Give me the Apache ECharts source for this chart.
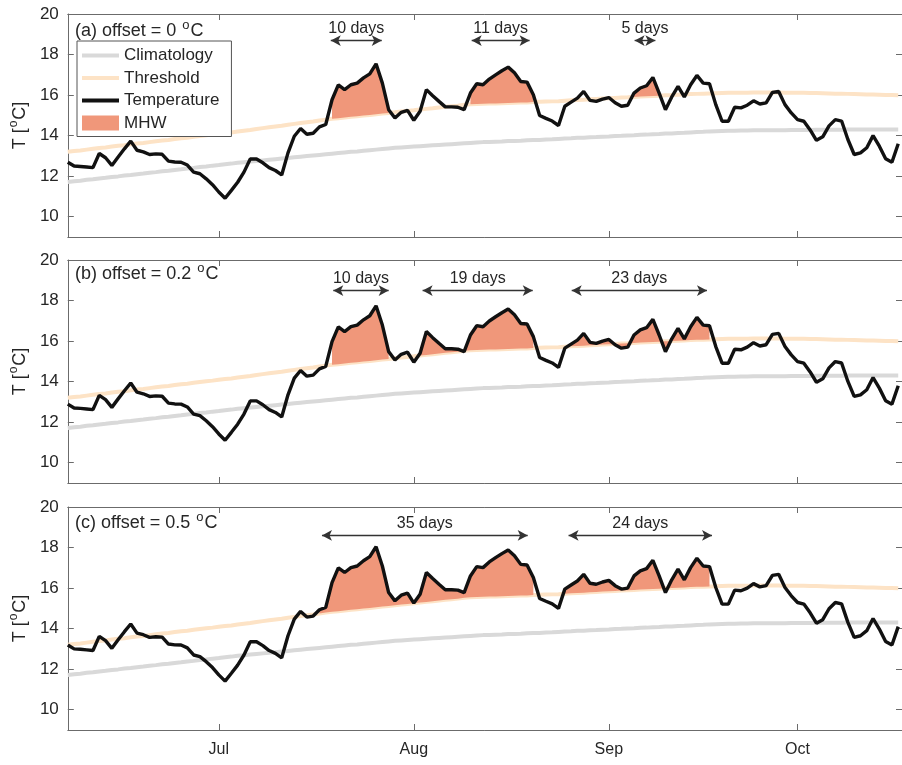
<!DOCTYPE html>
<html><head><meta charset="utf-8">
<script src="https://cdn.jsdelivr.net/npm/echarts@6/dist/echarts.min.js"></script>
<style>html,body{margin:0;padding:0;background:#fff}#c{width:902px;height:765px}</style>
</head><body><div id="c"></div>
<script>
// day of year of the first daily sample (7 Jun)
const startDay = 158;
const temperature = [
12.69,12.50,12.48,12.45,12.42,13.12,12.91,12.53,12.95,13.35,
13.73,13.28,13.20,13.07,13.10,13.08,12.74,12.70,12.69,12.55,
12.20,12.12,11.87,11.58,11.22,10.91,11.30,11.70,12.20,12.85,
12.85,12.66,12.42,12.28,12.06,13.15,13.97,14.35,14.07,14.12,
14.43,14.55,15.77,16.50,16.27,16.51,16.59,16.85,17.05,17.54,
16.59,15.28,14.87,15.15,15.25,14.76,15.20,16.27,15.97,15.69,
15.42,15.42,15.40,15.28,16.10,16.56,16.51,16.79,17.00,17.20,
17.38,17.10,16.67,16.64,16.02,14.99,14.85,14.72,14.50,15.45,
15.65,15.85,16.18,15.74,15.69,15.80,15.88,15.62,15.45,15.50,
16.10,16.35,16.46,16.87,16.10,15.28,15.91,16.43,15.91,16.51,
16.97,16.59,16.56,15.53,14.71,14.71,15.40,15.37,15.50,15.72,
15.56,15.62,16.13,16.18,15.53,15.12,14.79,14.71,14.28,13.77,
13.94,14.48,14.79,14.72,13.81,13.07,13.15,13.40,14.00,13.48,
12.86,12.69,13.60];
const threshold = [
13.20,13.24,13.27,13.31,13.35,13.39,13.42,13.46,13.50,13.53,
13.57,13.61,13.64,13.68,13.72,13.76,13.79,13.83,13.87,13.90,
13.94,13.98,14.02,14.05,14.09,14.13,14.16,14.20,14.24,14.28,
14.33,14.37,14.41,14.45,14.49,14.54,14.58,14.62,14.66,14.70,
14.75,14.79,14.83,14.86,14.89,14.93,14.96,14.99,15.02,15.06,
15.09,15.12,15.15,15.19,15.22,15.25,15.29,15.32,15.35,15.39,
15.42,15.45,15.48,15.52,15.55,15.56,15.57,15.58,15.59,15.60,
15.61,15.62,15.63,15.64,15.66,15.67,15.68,15.69,15.70,15.72,
15.74,15.76,15.77,15.79,15.81,15.83,15.84,15.86,15.88,15.89,
15.91,15.93,15.94,15.96,15.97,15.99,16.00,16.02,16.03,16.05,
16.06,16.07,16.08,16.09,16.10,16.11,16.11,16.12,16.12,16.13,
16.13,16.13,16.13,16.13,16.12,16.12,16.11,16.11,16.10,16.10,
16.09,16.08,16.07,16.07,16.06,16.05,16.04,16.03,16.03,16.02,
16.01,16.00,15.99];
const climatology = [
11.71,11.75,11.78,11.82,11.85,11.89,11.92,11.96,11.99,12.03,
12.06,12.10,12.13,12.17,12.20,12.24,12.27,12.31,12.34,12.38,
12.41,12.45,12.48,12.52,12.55,12.59,12.62,12.66,12.69,12.72,
12.75,12.78,12.81,12.84,12.87,12.90,12.93,12.96,12.99,13.02,
13.05,13.08,13.11,13.14,13.17,13.20,13.22,13.25,13.28,13.31,
13.34,13.37,13.40,13.42,13.44,13.46,13.48,13.50,13.52,13.54,
13.56,13.58,13.60,13.62,13.64,13.66,13.68,13.69,13.70,13.71,
13.73,13.74,13.75,13.77,13.78,13.79,13.81,13.82,13.84,13.86,
13.87,13.89,13.90,13.92,13.93,13.95,13.96,13.98,13.99,14.01,
14.02,14.04,14.05,14.07,14.08,14.10,14.11,14.13,14.14,14.16,
14.18,14.19,14.21,14.22,14.23,14.24,14.24,14.25,14.25,14.26,
14.26,14.26,14.27,14.27,14.27,14.28,14.28,14.28,14.28,14.29,
14.29,14.29,14.29,14.29,14.30,14.30,14.30,14.30,14.30,14.30,
14.30,14.30,14.30];
const offsets = [0, 0.2, 0.5];
const panelLetters = ['a', 'b', 'c'];
const monthLabels = ['Jul', 'Aug', 'Sep', 'Oct'];
const monthTickDays = [182, 213, 244, 274];
const yTicks = [10, 12, 14, 16, 18, 20];
// MHW events [first day, last day] (day of year) per panel
const eventsA = [[200, 209], [222, 232], [248, 252]];
const eventsB = [[200, 209], [214, 232], [238, 260]];
const eventsC = [[198, 232], [237, 260]];
// annotation arrow spans (day of year) and their height (deg C)
const arrowsA = [[199.8, 207.9], [222.2, 231.4], [248.1, 251.4]];
const arrowsB = [[200.2, 209.0], [214.4, 231.9], [238.1, 259.6]];
const arrowsC = [[198.4, 231.1], [237.6, 260.4]];
const arrowLevels = [18.69, 18.49, 18.6];

const events = [eventsA, eventsB, eventsC];
const arrows = [arrowsA, arrowsB, arrowsC];
const FONT = 'Liberation Sans';
const AX = '#6b6b6b';
const TXT = '#262626';
const MHW_COLOR = '#f0977a';
const gridTops = [14, 260, 507];
const gridH = 223;
const xMin = 158, xMax = 290.6;

const grids = [], xAxes = [], yAxes = [], series = [], titles = [];
const sup = (fs, pad) => ({ s: { fontSize: fs, padding: [0, 1, pad, 1], fontFamily: FONT, color: TXT } });

for (let p = 0; p < 3; p++) {
  grids.push({ left: 67, top: gridTops[p], width: 839, height: gridH, containLabel: false });
  const xBase = {
    type: 'value', gridIndex: p, min: xMin, max: xMax,
    axisLine: { show: true, onZero: false, lineStyle: { color: AX, width: 1 } },
    axisTick: { show: true, inside: true, length: 6, customValues: monthTickDays, lineStyle: { color: AX } },
    splitLine: { show: false }
  };
  xAxes.push(Object.assign({}, xBase, {
    position: 'bottom',
    axisLabel: { show: p === 2, customValues: monthTickDays, margin: 12,
      formatter: v => monthLabels[monthTickDays.indexOf(v)] || '',
      fontSize: 16, color: TXT, fontFamily: FONT }
  }));
  xAxes.push(Object.assign({}, xBase, { position: 'top', axisLabel: { show: false } }));
  const yBase = {
    type: 'value', gridIndex: p, min: 9, max: 20,
    axisLine: { show: true, onZero: false, lineStyle: { color: AX, width: 1 } },
    axisTick: { show: true, inside: true, length: 6, customValues: yTicks, lineStyle: { color: AX } },
    splitLine: { show: false }
  };
  yAxes.push(Object.assign({}, yBase, {
    position: 'left',
    axisLabel: { customValues: yTicks, fontSize: 17, color: TXT, fontFamily: FONT, margin: 9 },
    name: 'T [{s|o}C]', nameLocation: 'middle', nameGap: 31,
    nameTextStyle: { fontSize: 18, color: TXT, fontFamily: FONT, rich: sup(12, 12) }
  }));
  yAxes.push(Object.assign({}, yBase, { position: 'right', axisLabel: { show: false } }));

  const xi = 2 * p, yi = 2 * p;
  const off = offsets[p];
  const tempVals = temperature.map(v => +(v + off).toFixed(2));
  const temp = tempVals.map((v, k) => [startDay + k, v]);
  const thr = threshold.map((v, k) => [startDay + k, v]);
  const clim = climatology.map((v, k) => [startDay + k, v]);

  series.push({ name: 'Climatology', type: 'line', xAxisIndex: xi, yAxisIndex: yi, data: clim,
    symbol: 'none', z: 2, color: '#d9d9d9', lineStyle: { color: '#d9d9d9', width: 4 }, silent: true });
  series.push({ name: 'Threshold', type: 'line', xAxisIndex: xi, yAxisIndex: yi, data: thr,
    symbol: 'none', z: 2, color: '#fde3c6', lineStyle: { color: '#fde3c6', width: 4 }, silent: true });
  series.push({ name: 'MHW', type: 'custom', xAxisIndex: xi, yAxisIndex: yi, z: 3,
    data: events[p], encode: { x: [0, 1] }, clip: true, silent: true,
    color: MHW_COLOR, itemStyle: { color: MHW_COLOR },
    renderItem: (params, api) => {
      const s = api.value(0), e = api.value(1);
      const pts = [];
      for (let d = s; d <= e; d++) pts.push(api.coord([d, tempVals[d - startDay]]));
      for (let d = e; d >= s; d--) pts.push(api.coord([d, threshold[d - startDay]]));
      return { type: 'polygon', shape: { points: pts }, style: { fill: MHW_COLOR, stroke: null } };
    }
  });
  series.push({ name: 'Temperature', type: 'line', xAxisIndex: xi, yAxisIndex: yi, data: temp,
    symbol: 'none', z: 5, color: '#111', lineStyle: { color: '#111', width: 3.4 }, silent: true,
    markLine: {
      silent: true, symbol: ['arrow', 'arrow'], symbolSize: [8, 10], precision: 3,
      lineStyle: { color: '#333', width: 1.4, type: 'solid' },
      label: { show: true, position: 'insideMiddleTop', distance: 4, formatter: '{b}',
        fontSize: 16, color: TXT, fontFamily: FONT },
      emphasis: { disabled: true },
      data: arrows[p].map((a, j) => {
        const e = events[p][j];
        return [{ name: (e[1] - e[0] + 1) + ' days', coord: [a[0], arrowLevels[p]] },
                { coord: [a[1], arrowLevels[p]] }];
      })
    }
  });
  titles.push({
    text: '(' + panelLetters[p] + ') offset = ' + off + ' {s|o}C',
    left: 75, top: [19, 262, 511][p], padding: 0,
    textStyle: { fontSize: 18, fontWeight: 'normal', color: TXT, fontFamily: FONT, rich: sup(13, 12) }
  });
}

const linePath = 'path://M0,0 L40,0 L40,4.2 L0,4.2 Z';
const chart = echarts.init(document.getElementById('c'), null, { renderer: 'canvas' });
chart.setOption({
  animation: false,
  backgroundColor: '#fff',
  title: titles,
  grid: grids, xAxis: xAxes, yAxis: yAxes, series: series,
  legend: {
    left: 77, top: 41, orient: 'vertical', itemWidth: 37, itemHeight: 15, itemGap: 5.5,
    padding: [6, 12, 5, 5], borderColor: '#555', borderWidth: 1, backgroundColor: '#fff',
    selectedMode: false, z: 10,
    textStyle: { fontSize: 17, color: TXT, fontFamily: FONT, lineHeight: 15 },
    data: [
      { name: 'Climatology', icon: linePath },
      { name: 'Threshold', icon: linePath },
      { name: 'Temperature', icon: linePath },
      { name: 'MHW', icon: 'rect' }
    ]
  }
});
</script></body></html>
